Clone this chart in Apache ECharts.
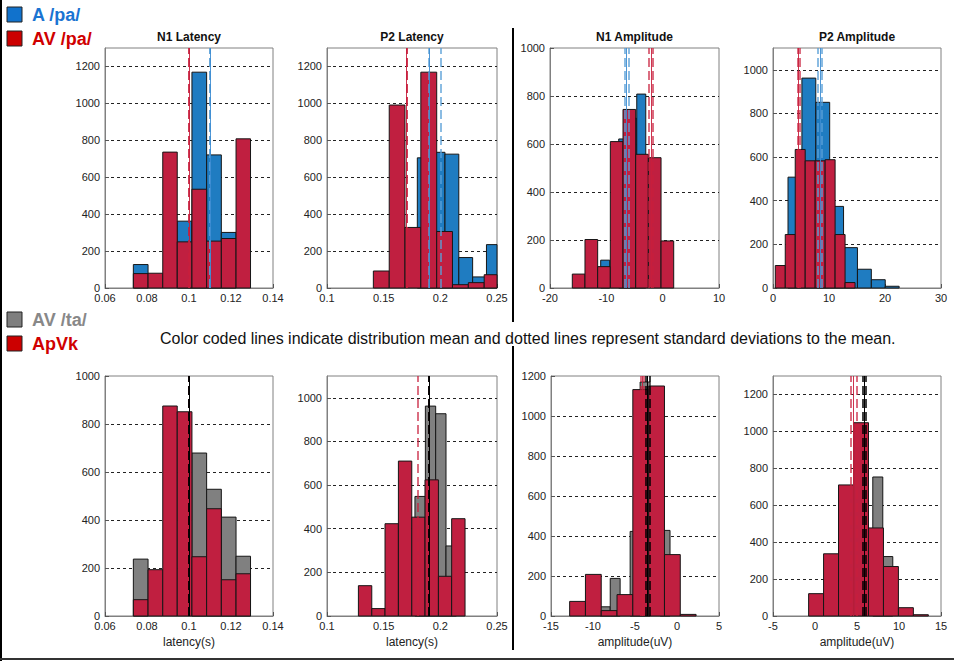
<!DOCTYPE html>
<html><head><meta charset="utf-8">
<script src="https://cdn.jsdelivr.net/npm/echarts@6/dist/echarts.min.js"></script>
<style>html,body{margin:0;padding:0;background:#fff;}#c{width:954px;height:661px;}</style>
</head><body><div id="c"></div>
<script>
// ---------- DATA ----------
const panelTitles = ['N1 Latency', 'P2 Latency', 'N1 Amplitude', 'P2 Amplitude'];
const xAxisNames = ['latency(s)', 'latency(s)', 'amplitude(uV)', 'amplitude(uV)'];
const legendTop = ['A /pa/', 'AV /pa/'];
const legendBottom = ['AV /ta/', 'ApVk'];
const caption = 'Color coded lines indicate distribution mean and dotted lines represent standard deviations to the mean.';

// axis ranges (tick labels)
const xMin = [0.06, 0.1, -20, 0, 0.06, 0.1, -15, -5];
const xMax = [0.14, 0.25, 10, 30, 0.14, 0.25, 5, 15];
const xStep = [0.02, 0.05, 10, 10, 0.02, 0.05, 5, 5];
const yMax = [1300, 1300, 1000, 1100, 1000, 1100, 1200, 1300];
const yStep = [200, 200, 200, 200, 200, 200, 200, 200];

// Panel 1: N1 latency, A /pa/ (blue) vs AV /pa/ (red)
const n1LatEdges = [0.0735, 0.0805, 0.0875, 0.0944, 0.1014, 0.1084, 0.1154, 0.1224, 0.1293];
const n1LatA = [127, null, null, 362, 1169, 721, 301, null];
const n1LatAV = [78, 80, 736, 250, 535, 254, 268, 808];
// Panel 2: P2 latency
const p2LatEdgesA = [0.1309, 0.1431, 0.1553, 0.1675, 0.1797, 0.1919, 0.2041, 0.2163, 0.2285, 0.2407, 0.2529];
const p2LatA = [null, null, null, null, 705, 735, 725, 165, 60, 235];
const p2LatEdgesAV = [0.1409, 0.1549, 0.1688, 0.1828, 0.1968, 0.2107, 0.2247, 0.2387, 0.2526];
const p2LatAV = [92, 991, 328, 1169, 306, 18, 29, 72];
// Panel 3: N1 amplitude
const n1AmpEdgesA = [-12.6, -11.0, -9.4, -7.8, -6.2, -4.6, -3.0];
const n1AmpA = [null, 116, null, 621, 707, 808];
const n1AmpEdgesAV = [-16.04, -13.79, -11.54, -9.29, -7.04, -4.79, -2.54, -0.29, 1.96];
const n1AmpAV = [58, 202, 89, 610, 744, 557, 543, 196];
// Panel 4: P2 amplitude
const p2AmpEdgesA = [0.20, 2.68, 5.16, 7.64, 10.12, 12.60, 15.08, 17.56, 20.04, 22.52];
const p2AmpA = [null, 508, 962, 851, 374, 185, 86, 38, 8];
const p2AmpEdgesAV = [0.41, 2.19, 3.97, 5.75, 7.53, 9.31, 11.09, 12.87, 14.65];
const p2AmpAV = [103, 245, 635, 583, 583, 588, 245, 25];
// Panel 5: N1 latency, AV /ta/ (gray) vs ApVk (red)
const n1LatTa = [237, null, null, null, 679, 528, 412, 249];
const n1LatApVk = [68, 193, 875, 851, 247, 447, 151, 176];
// Panel 6: P2 latency
const p2LatEdgesTa = [0.1776, 0.1868, 0.1959, 0.2050, 0.2141];
const p2LatTa = [548, 962, 927, 321];
const p2LatEdgesApVk = [0.1277, 0.1395, 0.1512, 0.1630, 0.1748, 0.1865, 0.1983, 0.2100, 0.2218];
const p2LatApVk = [139, 34, 423, 710, 453, 624, 182, 446];
// Panel 7: N1 amplitude
const n1AmpEdgesTa = [-9.14, -7.95, -6.77, -5.58, -4.39, -3.20, -2.01, -0.83];
const n1AmpTa = [46, 188, null, 423, 1170, null, 428];
const n1AmpEdgesApVk = [-12.78, -10.90, -9.02, -7.14, -5.26, -3.37, -1.49, 0.39, 2.27];
const n1AmpApVk = [73, 208, 27, 107, 1132, 1150, 307, 8];
// Panel 8: P2 amplitude
const p2AmpEdgesTa = [6.88, 8.07, 9.26];
const p2AmpTa = [753, 322];
const p2AmpEdgesApVk = [-0.76, 1.02, 2.80, 4.59, 6.37, 8.15, 9.93, 11.71, 13.49];
const p2AmpApVk = [121, 337, 710, 1047, 477, 268, 45, 7];

// means and deviations [N1 lat, P2 lat, N1 amp, P2 amp]
const meanA = [0.1086, 0.1947, -6.39, 8.43];
const devA = [0.0016, 0.0024, 0.36, 0.35];
const meanAV = [0.1005, 0.170, -2.07, 4.57];
const devAV = [0.0014, 0.0020, 0.36, 0.20];
const meanTa = [0.1022, 0.1880, -3.5, 5.85];
const devTa = [0.0016, 0.0022, 0.25, 0.16];
const meanApVk = [0.1030, 0.1856, -4.1, 4.58];
const devApVk = [0.0013, 0.0016, 0.20, 0.34];

// ---------- LAYOUT / STYLE ----------
const FONT = '"Liberation Sans", Arial, sans-serif';
const boxes = [[105,48,168,240],[327,48,170,240],[550,48,169,240],[773,48,168,240],
               [105,376,168,240],[327,376,170,240],[551,376,168,240],[773,376,168,240]];
const BLUE = '#1f7cc1', RED = '#c01f40', GRAY = '#808080';

const chart = echarts.init(document.getElementById('c'), null, {renderer: 'svg'});

function bars(i, edges, counts, color, z) {
  const data = [];
  counts.forEach((c, k) => { if (c != null) data.push([edges[k], edges[k + 1], c]); });
  return {
    type: 'custom', xAxisIndex: i, yAxisIndex: i, z: z, silent: true, data: data,
    encode: {x: [0, 1], y: 2},
    renderItem: function (p, api) {
      const cs = p.coordSys;
      const a = api.coord([api.value(0), api.value(2)]);
      const b = api.coord([api.value(1), 0]);
      let x0 = Math.max(a[0], cs.x), x1 = Math.min(b[0], cs.x + cs.width);
      if (x1 <= x0) return null;
      return {type: 'rect', shape: {x: x0, y: a[1], width: x1 - x0, height: b[1] - a[1]},
        style: {fill: color, stroke: '#161616', lineWidth: 1}};
    }
  };
}
function lines(i, m, d, solid, dash, z) {
  return {
    type: 'line', xAxisIndex: i, yAxisIndex: i, data: [], z: z, silent: true,
    markLine: {
      symbol: ['none', 'none'], silent: true, label: {show: false}, animation: false,
      data: [
        {xAxis: m - d, lineStyle: {color: dash, type: [9, 4], width: 2}},
        {xAxis: m + d, lineStyle: {color: dash, type: [9, 4], width: 2}},
        {xAxis: m, lineStyle: {color: solid, type: 'solid', width: 1}}
      ]
    }
  };
}

const grids = [], xAxes = [], yAxes = [];
boxes.forEach((b, i) => {
  grids.push({left: b[0], top: b[1], width: b[2], height: b[3], show: true,
    borderColor: '#808080', borderWidth: 1, backgroundColor: '#fff'});
  xAxes.push({type: 'value', gridIndex: i, min: xMin[i], max: xMax[i], interval: xStep[i],
    name: i >= 4 ? xAxisNames[i - 4] : '', nameLocation: 'middle', nameGap: 20,
    nameTextStyle: {fontSize: 12, color: '#222', fontFamily: FONT},
    axisLine: {show: true, onZero: false, lineStyle: {color: '#808080'}},
    axisTick: {show: true, inside: true, length: 4, lineStyle: {color: '#555'}},
    axisLabel: {fontSize: 11, color: '#222', margin: 4, fontFamily: FONT, showMinLabel: true, showMaxLabel: true,
      formatter: v => String(+(+v).toFixed(6))},
    splitLine: {show: false}});
  yAxes.push({type: 'value', gridIndex: i, min: 0, max: yMax[i], interval: yStep[i],
    axisLine: {show: true, onZero: false, lineStyle: {color: '#808080'}},
    axisTick: {show: true, inside: true, length: 4, lineStyle: {color: '#555'}},
    axisLabel: {fontSize: 11, color: '#222', margin: 5, fontFamily: FONT,
      showMaxLabel: yMax[i] % yStep[i] === 0, formatter: v => String(Math.round(v))},
    splitLine: {show: true, showMinLine: false, showMaxLine: false,
      lineStyle: {color: '#222', type: [3, 3], width: 1}}});
});

const redDash = 'rgba(200,30,60,0.65)', redSolid = 'rgba(200,30,60,0.9)';
const blueDash = 'rgba(90,160,215,0.7)', blueSolid = 'rgba(60,140,210,0.9)';
const blackDash = 'rgba(0,0,0,0.75)', blackSolid = '#000';

const series = [
  bars(0, n1LatEdges, n1LatA, BLUE, 2), bars(0, n1LatEdges, n1LatAV, RED, 3),
  bars(1, p2LatEdgesA, p2LatA, BLUE, 2), bars(1, p2LatEdgesAV, p2LatAV, RED, 3),
  bars(2, n1AmpEdgesA, n1AmpA, BLUE, 2), bars(2, n1AmpEdgesAV, n1AmpAV, RED, 3),
  bars(3, p2AmpEdgesA, p2AmpA, BLUE, 2), bars(3, p2AmpEdgesAV, p2AmpAV, RED, 3),
  bars(4, n1LatEdges, n1LatTa, GRAY, 2), bars(4, n1LatEdges, n1LatApVk, RED, 3),
  bars(5, p2LatEdgesTa, p2LatTa, GRAY, 2), bars(5, p2LatEdgesApVk, p2LatApVk, RED, 3),
  bars(6, n1AmpEdgesTa, n1AmpTa, GRAY, 2), bars(6, n1AmpEdgesApVk, n1AmpApVk, RED, 3),
  bars(7, p2AmpEdgesTa, p2AmpTa, GRAY, 2), bars(7, p2AmpEdgesApVk, p2AmpApVk, RED, 3)
];
for (let k = 0; k < 4; k++) {
  series.push(lines(k, meanAV[k], devAV[k], redSolid, redDash, 6));
  series.push(lines(k, meanA[k], devA[k], blueSolid, blueDash, 7));
  series.push(lines(k + 4, meanApVk[k], devApVk[k], redSolid, redDash, 6));
  series.push(lines(k + 4, meanTa[k], devTa[k], blackSolid, blackDash, 7));
}

const graphics = [];
panelTitles.forEach((t, k) => {
  const b = boxes[k];
  graphics.push({type: 'text', x: b[0] + b[2] / 2, y: 37, z: 10,
    style: {text: t, align: 'center', verticalAlign: 'middle', font: 'bold 12px ' + FONT, fill: '#111'}});
});
function legendItem(y, label, sq, col, weight) {
  graphics.push({type: 'rect', shape: {x: 7, y: y - 8, width: 15, height: 15}, z: 10,
    style: {fill: sq, stroke: '#222', lineWidth: 1}});
  graphics.push({type: 'text', x: 32, y: y, z: 10,
    style: {text: label, align: 'left', verticalAlign: 'middle', font: weight + ' 18px ' + FONT, fill: col}});
}
legendItem(15, legendTop[0], '#1172cc', '#1a74d2', 'bold');
legendItem(39, legendTop[1], '#cc0000', '#d00000', 'bold');
legendItem(320, legendBottom[0], '#7f7f7f', '#888888', 'bold');
legendItem(344, legendBottom[1], '#cc0000', '#d00000', 'bold');
graphics.push({type: 'text', x: 160, y: 338, z: 10,
  style: {text: caption, align: 'left', verticalAlign: 'middle', font: '16px ' + FONT, fill: '#111'}});
graphics.push({type: 'line', shape: {x1: 513, y1: 28, x2: 513, y2: 322}, style: {stroke: '#000', lineWidth: 2}});
graphics.push({type: 'line', shape: {x1: 513, y1: 346, x2: 513, y2: 650}, style: {stroke: '#000', lineWidth: 2}});
graphics.push({type: 'line', shape: {x1: 1, y1: 0, x2: 1, y2: 661}, style: {stroke: '#000', lineWidth: 2}});
graphics.push({type: 'line', shape: {x1: 0, y1: 659, x2: 954, y2: 659}, style: {stroke: '#333', lineWidth: 2}});

chart.setOption({
  animation: false,
  backgroundColor: '#fff',
  grid: grids, xAxis: xAxes, yAxis: yAxes,
  series: series,
  graphic: graphics
});
</script></body></html>
